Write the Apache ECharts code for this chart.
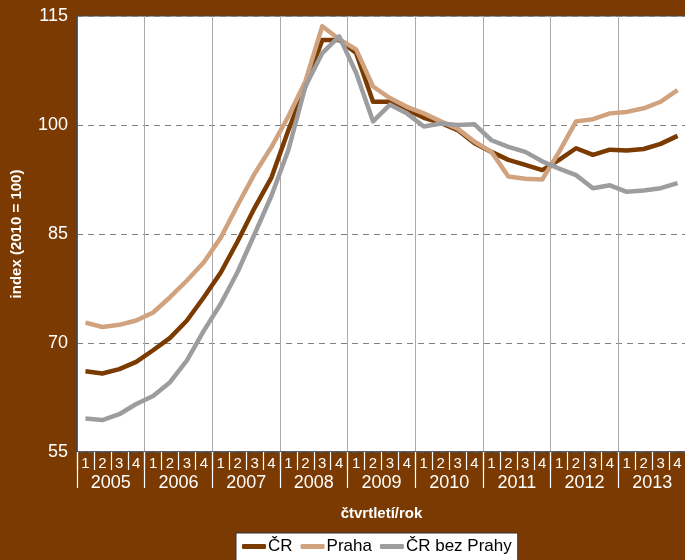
<!DOCTYPE html>
<html>
<head>
<meta charset="utf-8">
<title>index 2010 = 100</title>
<script src="https://cdn.jsdelivr.net/npm/echarts@6/dist/echarts.min.js"></script>
<style>
  html, body { margin: 0; padding: 0; background: #7a3a02; }
  #chart { width: 685px; height: 560px; }
</style>
</head>
<body>
<div id="chart"></div>
<script>
// quarters 2005 Q1 .. 2013 Q4
var years = ['2005', '2006', '2007', '2008', '2009', '2010', '2011', '2012', '2013'];
var quarters = [];
years.forEach(function (y) {
    ['1', '2', '3', '4'].forEach(function (q) { quarters.push(q); });
});

var cr = [66.1, 65.8, 66.4, 67.4, 69.0, 70.7, 73.1, 76.3, 79.7, 84.0, 88.6, 92.8,
          99.3, 105.3, 111.7, 111.7, 109.9, 103.2, 103.2, 102.1, 101.0, 100.3, 99.3, 97.5,
          96.3, 95.2, 94.5, 93.8, 95.2, 96.8, 95.9, 96.6, 96.5, 96.7, 97.4, 98.5];
var praha = [72.8, 72.2, 72.5, 73.1, 74.2, 76.3, 78.6, 81.1, 84.5, 89.0, 93.3, 97.0,
             101.2, 106.0, 113.6, 111.8, 110.4, 105.3, 103.7, 102.5, 101.6, 100.5, 99.5, 97.7,
             96.3, 92.9, 92.6, 92.5, 96.3, 100.5, 100.8, 101.6, 101.8, 102.3, 103.2, 104.8];
var bezPrahy = [59.6, 59.4, 60.2, 61.6, 62.7, 64.6, 67.6, 71.7, 75.4, 79.8, 85.0, 90.3,
                96.6, 105.3, 109.9, 112.2, 107.2, 100.5, 102.8, 101.6, 99.8, 100.2, 100.0, 100.1,
                97.9, 97.0, 96.3, 95.0, 94.0, 93.1, 91.3, 91.7, 90.8, 91.0, 91.3, 92.0];

var chart = echarts.init(document.getElementById('chart'));
var font = 'Liberation Sans, Arial, sans-serif';

function line(name, data, color) {
    return {
        name: name,
        type: 'line',
        data: data,
        xAxisIndex: 0,
        showSymbol: false,
        symbol: 'none',
        lineStyle: { color: color, width: 4.5, join: 'round' },
        itemStyle: { color: color },
        animation: false
    };
}

chart.setOption({
    backgroundColor: '#7a3a02',
    textStyle: { fontFamily: font },
    grid: {
        left: 77, right: -1, top: 16, bottom: 108,
        outerBoundsMode: 'none',
        containLabel: false,
        show: true, backgroundColor: '#fff',
        borderColor: '#444', borderWidth: 1
    },
    legend: {
        left: 236, top: 533,
        padding: [5, 6, 8, 6],
        backgroundColor: '#fff',
        borderColor: '#333', borderWidth: 1,
        borderRadius: 0,
        icon: 'roundRect',
        itemWidth: 24, itemHeight: 5,
        itemGap: 8,
        textStyle: { color: '#000', fontSize: 17, fontFamily: font, padding: [0, 0, 0, -3] },
        data: ['ČR', 'Praha', 'ČR bez Prahy']
    },
    xAxis: [{
        type: 'category',
        data: quarters,
        position: 'bottom',
        axisLine: { lineStyle: { color: '#444', width: 1.5 } },
        axisTick: { show: true, interval: 0, length: 18, lineStyle: { color: '#fff', width: 1.2 } },
        axisLabel: { interval: 0, color: '#fff', fontSize: 15, margin: 4 },
        splitLine: { show: false }
    }, {
        type: 'category',
        data: years,
        position: 'bottom',
        name: 'čtvrtletí/rok',
        nameLocation: 'middle',
        nameGap: 54,
        nameTextStyle: { color: '#fff', fontSize: 15, fontWeight: 'bold' },
        axisLine: { show: false },
        axisTick: { show: true, interval: 0, length: 36, lineStyle: { color: '#fff', width: 1.2 } },
        axisLabel: { interval: 0, color: '#fff', fontSize: 18, margin: 22 },
        splitLine: { show: true, interval: 0, lineStyle: { color: '#aaa', width: 1 } }
    }],
    yAxis: {
        type: 'value',
        min: 55, max: 115, interval: 15,
        name: 'index (2010 = 100)',
        nameLocation: 'middle',
        nameGap: 53,
        nameTextStyle: { color: '#fff', fontSize: 15, fontWeight: 'bold' },
        axisLine: { show: true, lineStyle: { color: '#444', width: 1.5 } },
        axisTick: { show: false },
        axisLabel: { color: '#fff', fontSize: 18, margin: 9 },
        splitLine: { show: true, lineStyle: { color: '#808080', type: [6, 5], width: 1 } }
    },
    series: [
        line('ČR', cr, '#7a3a00'),
        line('Praha', praha, '#d0a27e'),
        line('ČR bez Prahy', bezPrahy, '#9d9d9f')
    ]
});
</script>
</body>
</html>
